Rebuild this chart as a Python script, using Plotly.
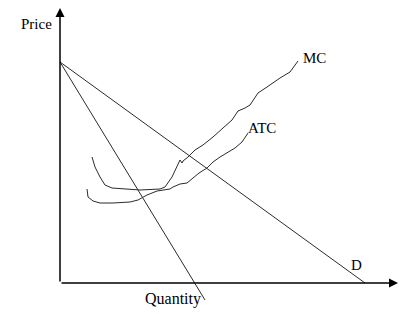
import plotly.graph_objects as go

# Drawing coordinates: origin at axis intersection (units ~ pixels)
d_x = [0, 305]
d_y = [221, 0]

mr_x = [0, 145]
mr_y = [221, -17]

mc_px = [92, 95, 100, 105, 112, 123, 140, 160, 165, 172, 178, 180, 182, 183, 188, 195,
         203, 213, 223, 232, 238, 245, 250, 258, 267, 280, 290, 298]
mc_py = [157, 167, 177, 185, 188, 189, 190, 189, 187, 177, 165, 160, 163, 161, 157, 150,
         145, 137, 128, 120, 111, 108, 105, 93, 87, 78, 72, 61]

atc_px = [87, 88, 93, 100, 113, 130, 138, 147, 157, 170, 173, 180, 187, 193, 199, 207,
          213, 220, 228, 235, 242, 248]
atc_py = [189, 197, 201, 203, 203, 202, 200, 195, 191, 189, 187, 184, 183, 178, 173, 168,
          162, 157, 152, 148, 142, 133]

mc_x = [p - 60 for p in mc_px]
mc_y = [283 - p for p in mc_py]
atc_x = [p - 60 for p in atc_px]
atc_y = [283 - p for p in atc_py]

labels = ["Price", "MC", "ATC", "D", "Quantity"]
label_x = [-41, 241, 186, 289, 83]
label_y = [259, 225, 155, 18, -16]
label_size = [15, 15, 15, 15, 16]

line_col = "#2b2b2b"
fig = go.Figure()
for xs, ys in [(d_x, d_y), (mr_x, mr_y), (mc_x, mc_y), (atc_x, atc_y)]:
    fig.add_trace(go.Scatter(x=xs, y=ys, mode="lines",
                             line=dict(color=line_col, width=1), hoverinfo="skip"))

# axes with arrows
fig.add_annotation(x=0, y=275, ax=0, ay=0, xref="x", yref="y", axref="x", ayref="y",
                   showarrow=True, arrowhead=2, arrowsize=1.2, arrowwidth=1.5,
                   arrowcolor="black", text="")
fig.add_annotation(x=338, y=0, ax=0, ay=0, xref="x", yref="y", axref="x", ayref="y",
                   showarrow=True, arrowhead=2, arrowsize=1.2, arrowwidth=1.5,
                   arrowcolor="black", text="")

for t, x, y, s in zip(labels, label_x, label_y, label_size):
    fig.add_annotation(x=x, y=y, text=t, showarrow=False, xanchor="left", yanchor="middle",
                       font=dict(family="Liberation Serif", size=s, color="black"))

fig.update_layout(width=399, height=314, margin=dict(l=0, r=0, t=0, b=0),
                  paper_bgcolor="white", plot_bgcolor="white", showlegend=False,
                  xaxis=dict(range=[-60, 339], visible=False, fixedrange=True),
                  yaxis=dict(range=[-31, 283], visible=False, fixedrange=True))
fig.write_html("out.html")
